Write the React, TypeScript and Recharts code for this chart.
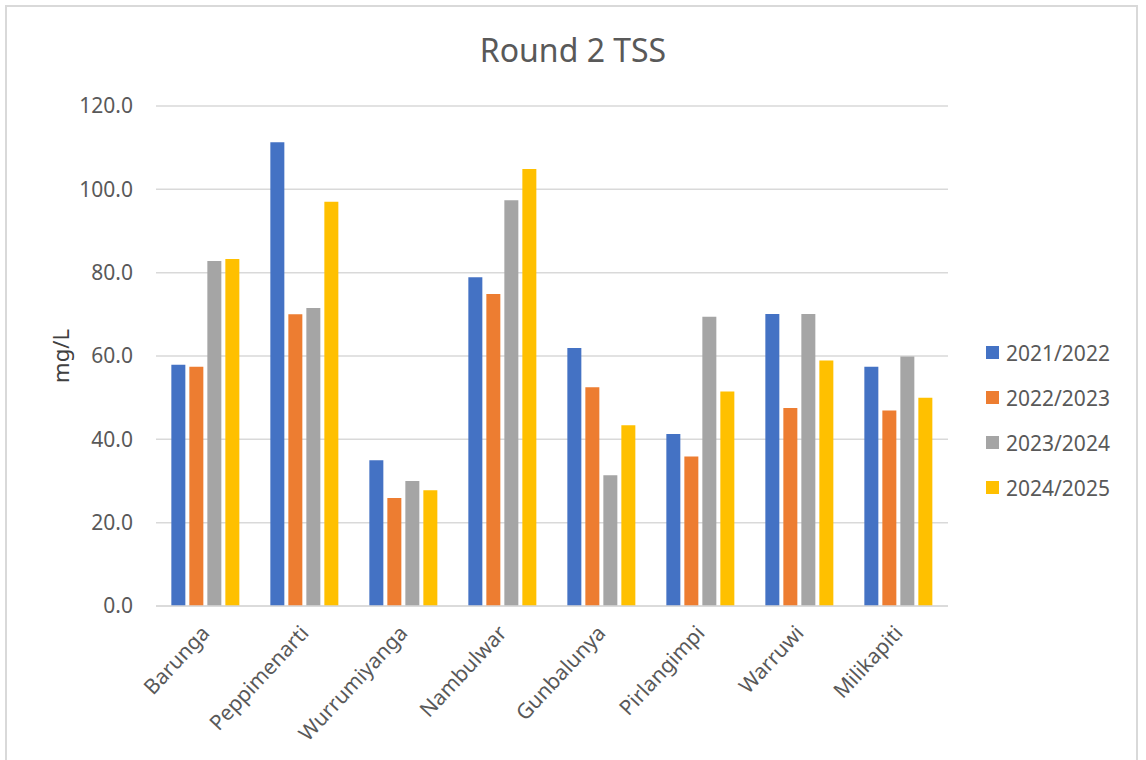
import React from "react";
import { BarChart, Bar, XAxis, YAxis, CartesianGrid, Legend } from "recharts";

const SITES = ["Barunga", "Peppimenarti", "Wurrumiyanga", "Nambulwar", "Gunbalunya", "Pirlangimpi", "Warruwi", "Milikapiti"];
const Y2122 = [57.9, 111.3, 35.0, 78.9, 61.9, 41.3, 70.1, 57.4];
const Y2223 = [57.4, 70.0, 25.9, 74.9, 52.5, 35.9, 47.5, 46.9];
const Y2324 = [82.8, 71.5, 30.0, 97.4, 31.4, 69.4, 70.1, 59.9];
const Y2425 = [83.3, 97.0, 27.8, 104.9, 43.4, 51.5, 58.9, 50.0];
const Y_TICKS = [0, 20, 40, 60, 80, 100, 120];

const SERIES = [
    { key: "y2122", name: "2021/2022", color: "#4472C4" },
    { key: "y2223", name: "2022/2023", color: "#ED7D31" },
    { key: "y2324", name: "2023/2024", color: "#A5A5A5" },
    { key: "y2425", name: "2024/2025", color: "#FFC000" },
];

const data = SITES.map((site, i) => ({
    site,
    y2122: Y2122[i],
    y2223: Y2223[i],
    y2324: Y2324[i],
    y2425: Y2425[i],
}));

const FONT = "'Noto Sans', 'Open Sans', sans-serif";

function SiteTick({ x, y, payload }: any) {
    return (
        <g transform={`translate(${x},${y + 15})`}>
            <text transform="rotate(-47)" textAnchor="end" dy="0.35em"
                fontFamily={FONT} fontSize={21} fill="#595959">
                {payload.value}
            </text>
        </g>
    );
}

function YLabel({ viewBox }: any) {
    const cy = viewBox.y + viewBox.height / 2;
    return (
        <text x={60} y={cy} transform={`rotate(-90, 60, ${cy})`} textAnchor="middle" dominantBaseline="central"
            fontFamily={FONT} fontSize={22} fill="#404040">
            mg/L
        </text>
    );
}

function LegendList({ payload }: any) {
    return (
        <div style={{ fontFamily: FONT, fontSize: 21, color: "#595959" }}>
            {(payload || []).map((p: any) => (
                <div key={p.value} style={{ display: "flex", alignItems: "center", height: 45 }}>
                    <span style={{ width: 13, height: 13, background: p.color, marginRight: 7, display: "inline-block" }} />
                    {p.value}
                </div>
            ))}
        </div>
    );
}

export default function App() {
    return (
        <div style={{ position: "fixed", left: 0, top: 0, width: 1146, height: 760, background: "#fff" }}>
            <div style={{
                position: "absolute", left: 5, top: 5, width: 1133, height: 770,
                border: "2px solid #d9d9d9", boxSizing: "border-box",
            }} />
            <div style={{
                position: "absolute", left: 0, top: 28, width: 1146, textAlign: "center",
                fontFamily: FONT, fontSize: 32, lineHeight: "44px", color: "#595959",
            }}>
                Round 2 TSS
            </div>
            <div style={{ position: "absolute", left: 0, top: 0 }}>
                <BarChart width={1146} height={760} data={data}
                    margin={{ top: 106, right: 198, bottom: 34, left: 0 }}
                    barGap={4} barCategoryGap="15.5%">
                    <CartesianGrid vertical={false} stroke="#d9d9d9" strokeWidth={1.5} />
                    <XAxis dataKey="site" height={120} interval={0} tickLine={false}
                        axisLine={{ stroke: "#d9d9d9", strokeWidth: 1.5 }} tick={<SiteTick />} />
                    <YAxis width={156} domain={[0, 120]} ticks={Y_TICKS} axisLine={false} tickLine={false}
                        tickMargin={17} tickFormatter={(v: number) => v.toFixed(1)}
                        tick={{ fontFamily: FONT, fontSize: 21, fill: "#595959" }}
                        label={<YLabel />} />
                    <Legend layout="vertical" align="center" verticalAlign="middle"
                        wrapperStyle={{ left: 986, top: 330, width: 155, height: 180 }}
                        content={<LegendList />} />
                    {SERIES.map((s) => (
                        <Bar key={s.key} dataKey={s.key} name={s.name} fill={s.color} isAnimationActive={false} />
                    ))}
                </BarChart>
            </div>
        </div>
    );
}
